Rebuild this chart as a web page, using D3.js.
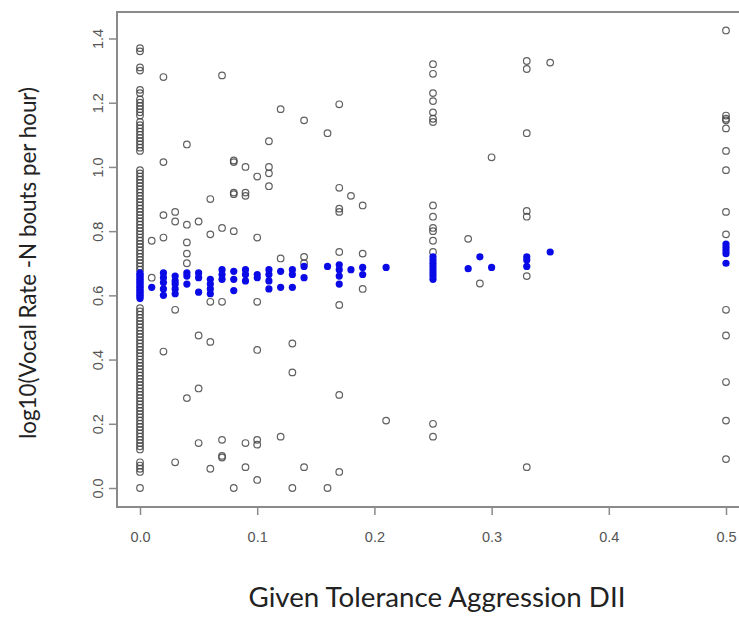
<!DOCTYPE html>
<html><head><meta charset="utf-8">
<script src="https://cdn.jsdelivr.net/npm/d3@7"></script>
<style>body{margin:0;background:#fff}svg{display:block}</style>
</head><body>
<svg id="c" width="739" height="617"></svg>
<script>
// ---- data ----
const xTicks = [0.0, 0.1, 0.2, 0.3, 0.4, 0.5];
const yTicks = [0.0, 0.2, 0.4, 0.6, 0.8, 1.0, 1.2, 1.4];
const xTitle = "Given Tolerance Aggression DII";
const yTitle = "log10(Vocal Rate -N bouts per hour)";

// observed values (open circles): [DII, log10 rate]
const observedX0 = [1.37,1.36,1.31,1.30,1.24,1.23,1.21,1.20,1.19,1.18,1.17,1.16,1.14,1.13,1.12,1.11,1.10,1.09,1.08,1.07,1.06,1.05,
  0.99,0.98,0.97,0.96,0.95,0.94,0.93,0.92,0.91,0.90,0.89,0.88,0.87,0.86,0.85,0.84,0.83,0.82,0.81,0.80,0.79,0.78,0.77,0.76,0.75,0.74,0.73,0.72,0.71,0.70,0.69,0.68,
  0.56,0.55,0.54,0.53,0.52,0.51,0.50,0.49,0.48,0.47,0.46,0.45,0.44,0.43,0.42,0.41,0.40,0.39,0.38,0.37,0.36,0.35,0.34,0.33,0.32,0.31,0.30,0.29,0.28,0.27,0.26,0.25,0.24,0.23,0.22,0.21,0.20,0.19,0.18,0.17,0.16,0.15,0.14,0.13,0.12,
  0.08,0.07,0.06,0.05,0.00];
const observedOther = [
  [0.01,0.77],[0.01,0.655],
  [0.02,1.28],[0.02,1.015],[0.02,0.85],[0.02,0.78],[0.02,0.425],
  [0.03,0.86],[0.03,0.83],[0.03,0.555],[0.03,0.08],
  [0.04,1.07],[0.04,0.82],[0.04,0.765],[0.04,0.73],[0.04,0.70],[0.04,0.28],
  [0.05,0.83],[0.05,0.475],[0.05,0.31],[0.05,0.14],
  [0.06,0.90],[0.06,0.79],[0.06,0.58],[0.06,0.455],[0.06,0.06],
  [0.07,1.285],[0.07,0.81],[0.07,0.58],[0.07,0.15],[0.07,0.10],[0.07,0.095],
  [0.08,1.02],[0.08,1.015],[0.08,0.92],[0.08,0.915],[0.08,0.80],[0.08,0.0],
  [0.09,1.0],[0.09,0.92],[0.09,0.91],[0.09,0.14],[0.09,0.065],
  [0.10,0.97],[0.10,0.78],[0.10,0.58],[0.10,0.43],[0.10,0.15],[0.10,0.135],[0.10,0.025],
  [0.11,1.08],[0.11,1.0],[0.11,0.98],[0.11,0.94],
  [0.12,1.18],[0.12,0.715],[0.12,0.16],
  [0.13,0.45],[0.13,0.36],[0.13,0.0],
  [0.14,1.145],[0.14,0.72],[0.14,0.70],[0.14,0.065],
  [0.16,1.105],[0.16,0.0],
  [0.17,1.195],[0.17,0.935],[0.17,0.87],[0.17,0.86],[0.17,0.735],[0.17,0.57],[0.17,0.29],[0.17,0.05],
  [0.18,0.91],
  [0.19,0.88],[0.19,0.73],[0.19,0.62],
  [0.21,0.21],
  [0.25,1.32],[0.25,1.29],[0.25,1.23],[0.25,1.205],[0.25,1.17],[0.25,1.15],[0.25,1.14],[0.25,0.88],[0.25,0.845],[0.25,0.81],[0.25,0.80],[0.25,0.77],[0.25,0.735],[0.25,0.20],[0.25,0.16],
  [0.28,0.776],
  [0.29,0.637],
  [0.30,1.03],
  [0.33,1.33],[0.33,1.305],[0.33,1.105],[0.33,0.863],[0.33,0.845],[0.33,0.66],[0.33,0.065],
  [0.35,1.325],
  [0.50,1.425],[0.50,1.16],[0.50,1.15],[0.50,1.145],[0.50,1.12],[0.50,1.05],[0.50,0.99],[0.50,0.86],[0.50,0.79],[0.50,0.555],[0.50,0.475],[0.50,0.33],[0.50,0.21],[0.50,0.09]
];
// fitted values (blue filled dots)
const fittedX0 = [0.67,0.665,0.66,0.655,0.65,0.645,0.64,0.635,0.63,0.625,0.62,0.615,0.61,0.605,0.60,0.595,0.59];
const fittedOther = [
  [0.01,0.625],
  [0.02,0.67],[0.02,0.655],[0.02,0.64],[0.02,0.62],[0.02,0.60],
  [0.03,0.66],[0.03,0.645],[0.03,0.635],[0.03,0.62],[0.03,0.605],
  [0.04,0.67],[0.04,0.66],[0.04,0.635],
  [0.05,0.67],[0.05,0.655],[0.05,0.61],
  [0.06,0.65],[0.06,0.635],[0.06,0.62],[0.06,0.605],
  [0.07,0.68],[0.07,0.665],[0.07,0.65],
  [0.08,0.675],[0.08,0.65],[0.08,0.615],
  [0.09,0.68],[0.09,0.665],[0.09,0.645],
  [0.10,0.665],[0.10,0.655],
  [0.11,0.68],[0.11,0.665],[0.11,0.645],[0.11,0.62],
  [0.12,0.675],[0.12,0.625],
  [0.13,0.68],[0.13,0.665],[0.13,0.625],
  [0.14,0.69],[0.14,0.655],
  [0.16,0.69],
  [0.17,0.695],[0.17,0.68],[0.17,0.66],[0.17,0.635],
  [0.18,0.68],
  [0.19,0.687],[0.19,0.665],
  [0.21,0.687],
  [0.25,0.72],[0.25,0.71],[0.25,0.70],[0.25,0.69],[0.25,0.68],[0.25,0.67],[0.25,0.66],[0.25,0.65],
  [0.28,0.683],
  [0.29,0.72],
  [0.30,0.687],
  [0.33,0.72],[0.33,0.71],[0.33,0.69],
  [0.35,0.735],
  [0.50,0.76],[0.50,0.75],[0.50,0.74],[0.50,0.73],[0.50,0.70]
];

const observed = observedX0.map(v => [0, v]).concat(observedOther);
const fitted = fittedX0.map(v => [0, v]).concat(fittedOther);

// ---- layout ----
const svg = d3.select("#c");
const box = {left: 117, right: 750, top: 12, bottom: 507};
const x = d3.scaleLinear().domain([0, 0.5]).range([140, 726]);
const y = d3.scaleLinear().domain([0, 1.4]).range([488, 38.5]);
const axisCol = "#8a8a8a";
const labCol = "#555";
const tickFont = "Arial, 'Liberation Sans', sans-serif";

// plot box
svg.append("rect")
  .attr("x", box.left).attr("y", box.top)
  .attr("width", box.right - box.left).attr("height", box.bottom - box.top)
  .attr("fill", "none").attr("stroke", axisCol).attr("stroke-width", 2);

// x axis
const xAxis = d3.axisBottom(x).tickValues(xTicks).tickFormat(d3.format(".1f")).tickSize(8).tickPadding(17);
const gx = svg.append("g").attr("transform", `translate(0,${box.bottom})`).call(xAxis);
gx.select(".domain").remove();
gx.selectAll(".tick line").attr("stroke", axisCol).attr("stroke-width", 1.5);
gx.selectAll(".tick text").attr("fill", labCol).style("font-family", tickFont).style("font-size", "14.5px");

// y axis (R style: labels parallel to axis)
const yAxis = d3.axisLeft(y).tickValues(yTicks).tickFormat(d3.format(".1f")).tickSize(8).tickPadding(0);
const gy = svg.append("g").attr("transform", `translate(${box.left},0)`).call(yAxis);
gy.select(".domain").remove();
gy.selectAll(".tick line").attr("stroke", axisCol).attr("stroke-width", 1.5);
gy.selectAll(".tick text")
  .attr("x", 0).attr("y", 0).attr("dy", null)
  .attr("transform", "translate(-14,0) rotate(-90)")
  .attr("text-anchor", "middle")
  .attr("fill", labCol).style("font-family", tickFont).style("font-size", "14.5px");

// points
const g = svg.append("g");
g.selectAll("circle.obs").data(observed).join("circle").attr("class", "obs")
  .attr("cx", d => x(d[0])).attr("cy", d => y(d[1])).attr("r", 3.3)
  .attr("fill", "none").attr("stroke", "#444").attr("stroke-width", 1.2).attr("stroke-opacity", 0.85);
g.selectAll("circle.fit").data(fitted).join("circle").attr("class", "fit")
  .attr("cx", d => x(d[0])).attr("cy", d => y(d[1])).attr("r", 3.6)
  .attr("fill", "#0a0ae6");

// titles
const fam = "Lato, 'Open Sans', sans-serif";
const xt = svg.append("text").text(xTitle)
  .attr("x", 437).attr("y", 607).attr("text-anchor", "middle")
  .attr("fill", "#222").style("font-family", fam).style("font-size", "21px");
const yt = svg.append("text").text(yTitle)
  .attr("transform", "translate(36,263) rotate(-90)").attr("text-anchor", "middle")
  .attr("fill", "#222").style("font-family", fam).style("font-size", "21px");
// fit text widths to those measured in the picture
function fit(t, w) {
  const cur = t.node().getComputedTextLength();
  const fs = parseFloat(t.style("font-size"));
  t.style("font-size", (fs * w / cur).toFixed(2) + "px");
}
fit(xt, 377);
fit(yt, 352);
</script>
</body></html>
